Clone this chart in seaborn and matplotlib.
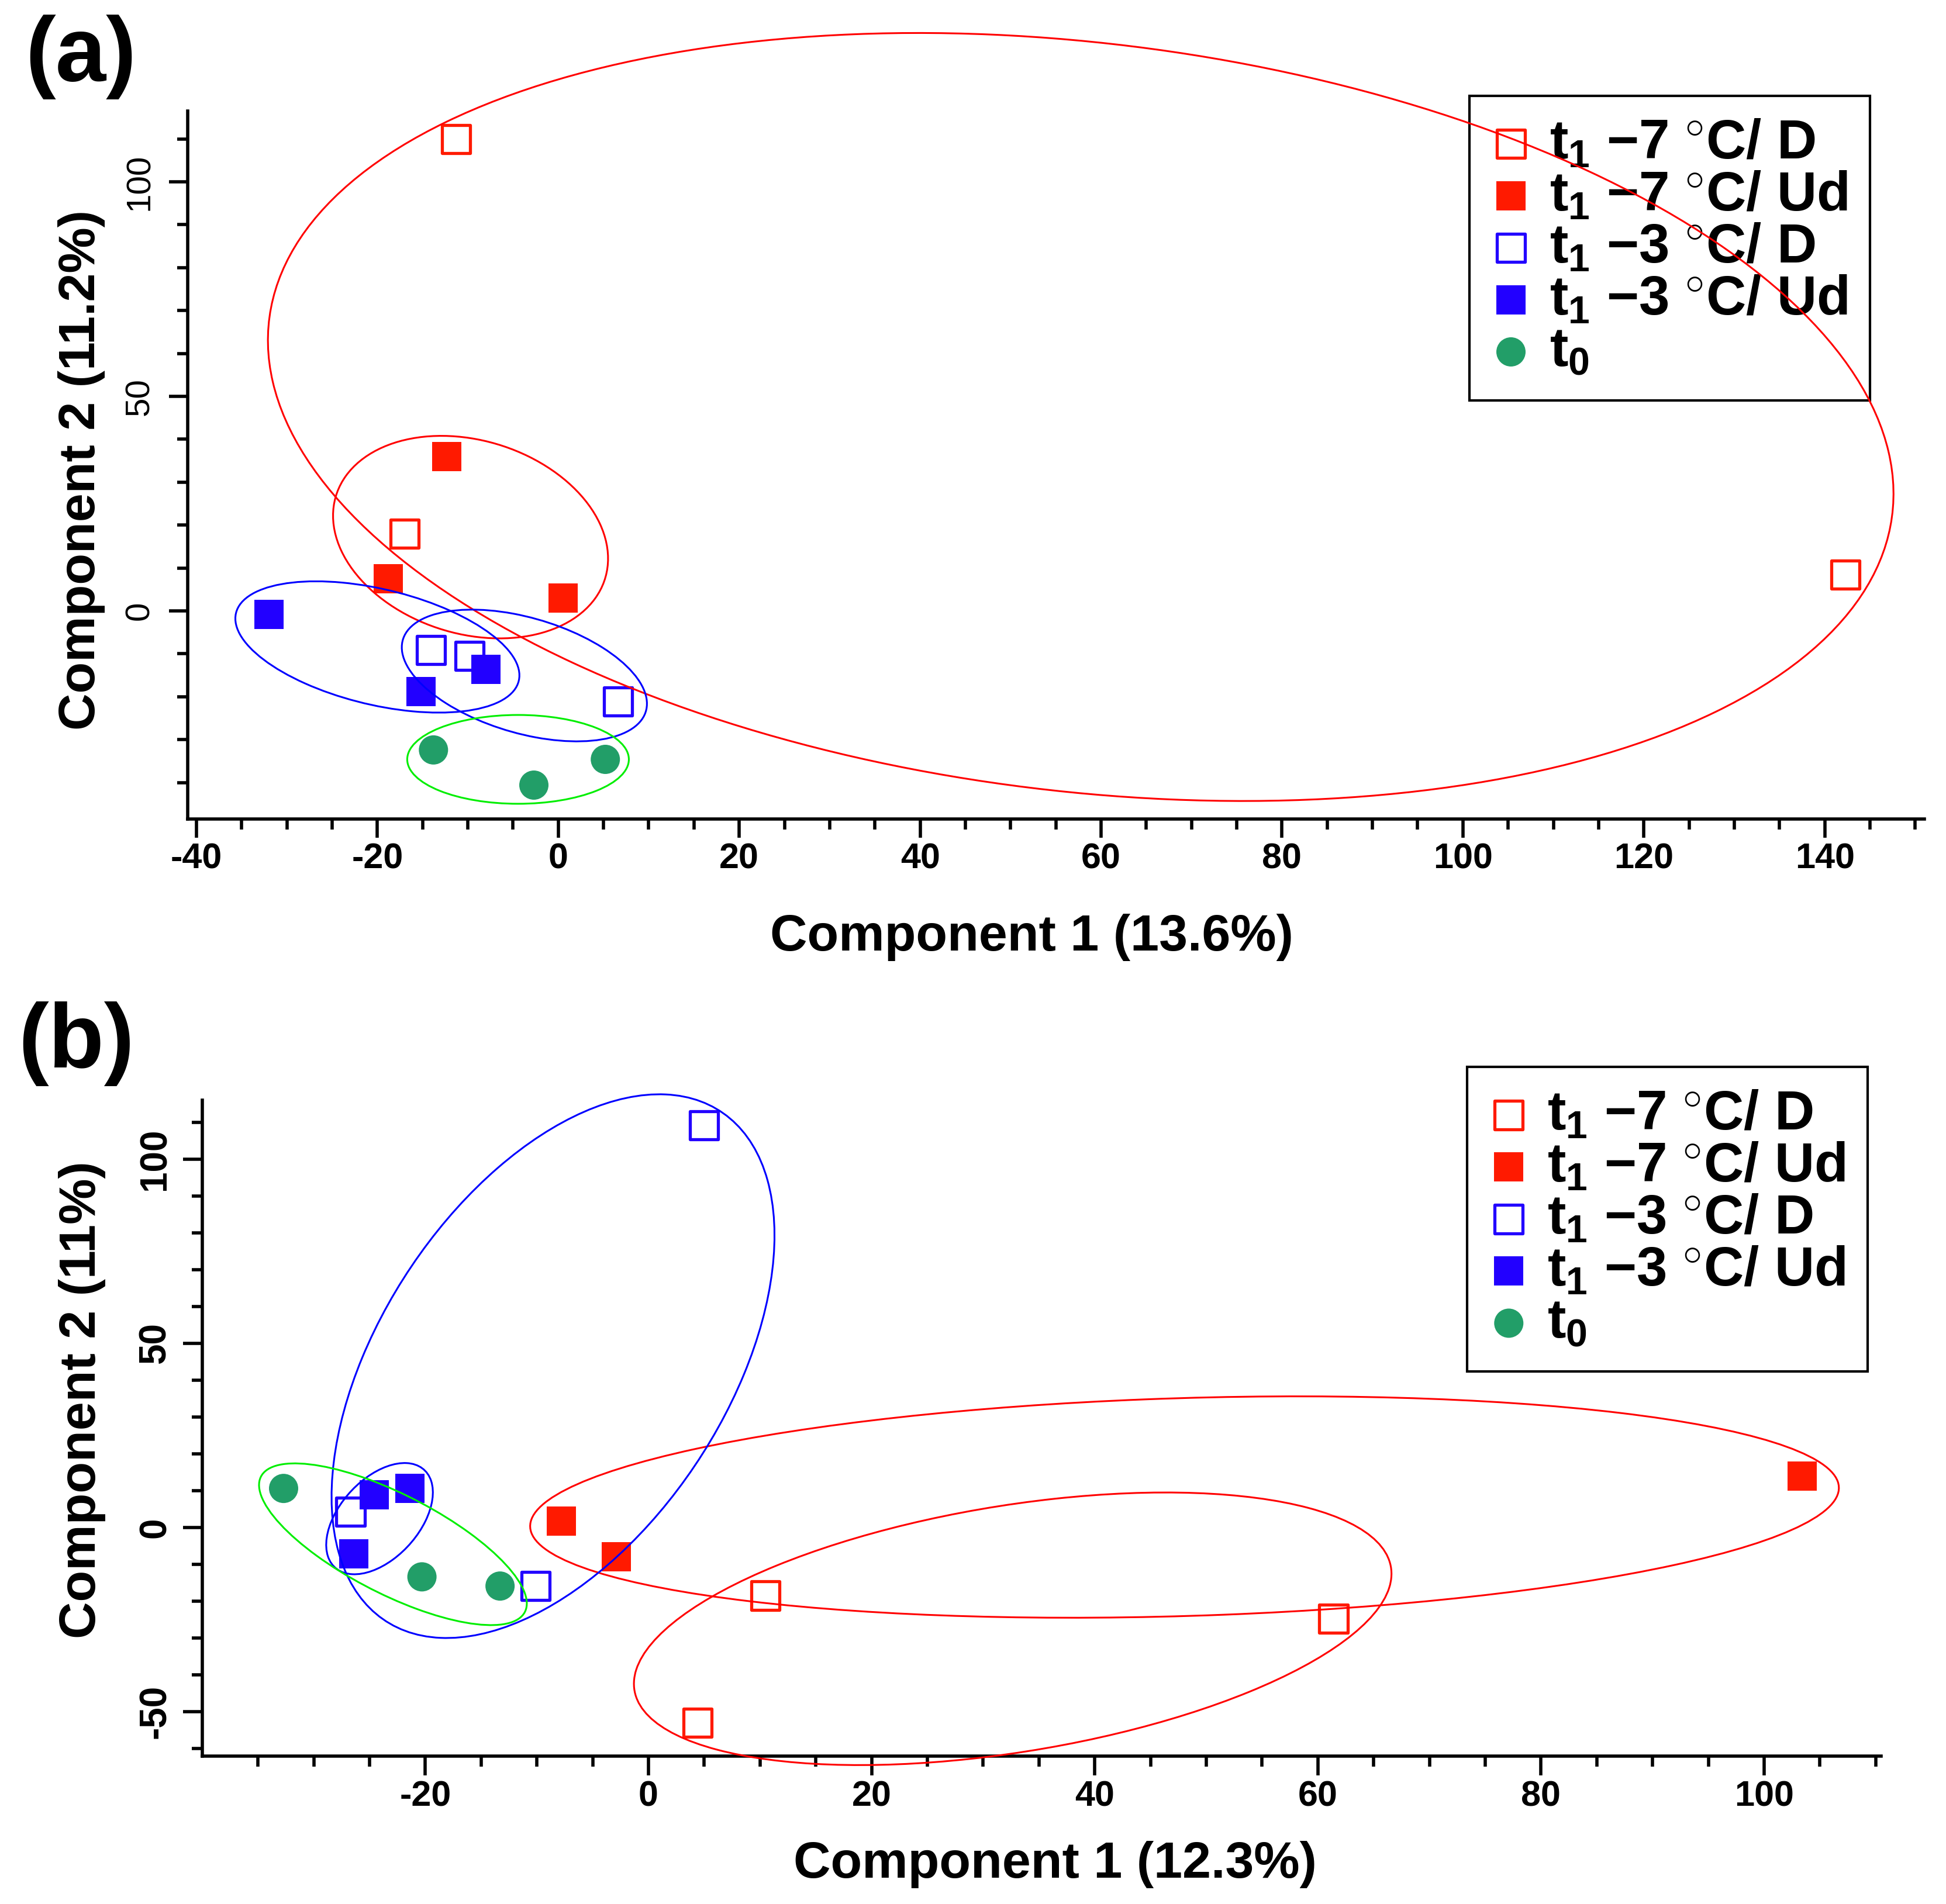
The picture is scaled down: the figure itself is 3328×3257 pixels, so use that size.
import numpy as np
import pandas as pd
import matplotlib
matplotlib.use("Agg")
import matplotlib.pyplot as plt
from matplotlib.patches import Ellipse
from matplotlib.ticker import FixedLocator
import seaborn as sns

# ---------------- data ----------------
group_keys = ["r_open", "r_fill", "b_open", "b_fill", "t0"]
group_labels = [r"$t_1$ −7 $^{\circ}$C/ D", r"$t_1$ −7 $^{\circ}$C/ Ud",
                r"$t_1$ −3 $^{\circ}$C/ D", r"$t_1$ −3 $^{\circ}$C/ Ud", r"$t_0$"]

# panel (a) scores
a_r_open_x = [-11.3, -17.0, 142.3]
a_r_open_y = [109.9, 18.0, 8.4]
a_r_fill_x = [-12.3, -18.8, 0.5]
a_r_fill_y = [36.0, 7.5, 3.0]
a_b_open_x = [-14.1, -9.8, 6.6]
a_b_open_y = [-9.1, -10.5, -21.1]
a_b_fill_x = [-32.0, -8.0, -15.2]
a_b_fill_y = [-0.8, -13.6, -18.8]
a_t0_x = [-13.8, -2.7, 5.2]
a_t0_y = [-32.4, -40.6, -34.6]

# panel (b) scores
b_r_open_x = [10.5, 61.4, 4.4]
b_r_open_y = [-18.5, -24.7, -53.0]
b_r_fill_x = [-7.8, -2.9, 103.4]
b_r_fill_y = [1.7, -7.9, 14.0]
b_b_open_x = [-26.7, -10.1, 5.0]
b_b_open_y = [4.3, -15.9, 109.2]
b_b_fill_x = [-24.6, -21.4, -26.4]
b_b_fill_y = [8.8, 10.6, -7.1]
b_t0_x = [-32.7, -20.3, -13.3]
b_t0_y = [10.6, -13.4, -15.9]

# group ellipses: centre, half extents along x / y, covariance term
a_ell_cx = [57.75, -9.7, -3.75, -20.0, -4.45]
a_ell_cy = [45.2, 17.2, -15.05, -8.4, -34.6]
a_ell_hx = [89.85, 15.2, 13.55, 15.7, 12.25]
a_ell_hy = [89.5, 23.6, 15.35, 15.3, 10.35]
a_ell_k = [-1607.0, -76.0, -89.0, -104.0, 0.0]

b_ell_cx = [32.65, 48.05, -8.55, -24.1, -22.9]
b_ell_cy = [-27.5, 5.55, 43.8, 2.4, -4.55]
b_ell_hx = [33.95, 58.65, 19.85, 4.78, 12.0]
b_ell_hy = [37.0, 30.05, 73.8, 15.1, 21.95]
b_ell_k = [507.0, 305.0, 704.0, 34.0, -193.0]

a_xlabel = "Component 1 (13.6%)"
a_ylabel = "Component 2 (11.2%)"
b_xlabel = "Component 1 (12.3%)"
b_ylabel = "Component 2 (11%)"

# ---------------- style ----------------
sns.set_style("ticks")
plt.rcParams["font.family"] = ["Liberation Sans", "DejaVu Sans"]
plt.rcParams["mathtext.fontset"] = "custom"
plt.rcParams["mathtext.rm"] = "Liberation Sans:bold"
plt.rcParams["mathtext.it"] = "Liberation Sans:bold"
plt.rcParams["mathtext.bf"] = "Liberation Sans:bold"
plt.rcParams["axes.unicode_minus"] = False
for key in ["text.color", "axes.labelcolor", "xtick.color", "ytick.color", "axes.edgecolor"]:
    plt.rcParams[key] = "black"

marker_col = {"r_open": "#FF1A00", "r_fill": "#FF1A00", "b_open": "#2200FF",
              "b_fill": "#2200FF", "t0": "#229E68"}
ell_col = {"r_open": "#FF0000", "r_fill": "#FF0000", "b_open": "#0000FF",
           "b_fill": "#0000FF", "t0": "#00EE00"}
marker_shape = {"r_open": "s", "r_fill": "s", "b_open": "s", "b_fill": "s", "t0": "o"}
is_open = {"r_open": True, "r_fill": False, "b_open": True, "b_fill": False, "t0": False}


def make_frame(prefix):
    rows = []
    for key in group_keys:
        xs = globals()[f"{prefix}_{key}_x"]
        ys = globals()[f"{prefix}_{key}_y"]
        for xv, yv in zip(xs, ys):
            rows.append({"pc1": xv, "pc2": yv, "group": key})
    return pd.DataFrame(rows)


def add_ellipse(ax, cx, cy, hx, hy, k, color):
    C = np.array([[hx ** 2, k], [k, hy ** 2]])
    vals, vecs = np.linalg.eigh(C)
    order = vals.argsort()[::-1]
    vals, vecs = vals[order], vecs[:, order]
    angle = np.degrees(np.arctan2(vecs[1, 0], vecs[0, 0]))
    e = Ellipse((cx, cy), 2 * np.sqrt(vals[0]), 2 * np.sqrt(vals[1]), angle=angle,
                fill=False, edgecolor=color, lw=1.1, zorder=6, clip_on=False)
    ax.add_patch(e)


W, H = 3328, 3257
DPI = 200
fig = plt.figure(figsize=(W / DPI, H / DPI), dpi=DPI)

ax_a = fig.add_axes([320.5 / W, 1 - 1401 / H, (3290.8 - 320.5) / W, (1401 - 190) / H])
ax_b = fig.add_axes([345.7 / W, 1 - 3003.6 / H, (3217.3 - 345.7) / W, (3003.6 - 1882) / H])


def draw_panel(ax, prefix, ell):
    df = make_frame(prefix)
    for key, lab in zip(group_keys, group_labels):
        sub = df[df["group"] == key]
        col = marker_col[key]
        if is_open[key]:
            sns.scatterplot(data=sub, x="pc1", y="pc2", ax=ax, marker=marker_shape[key],
                            s=300, color=col, facecolor="none", edgecolor=col,
                            linewidth=1.9, label=lab, zorder=4)
        else:
            sns.scatterplot(data=sub, x="pc1", y="pc2", ax=ax, marker=marker_shape[key],
                            s=324, color=col, edgecolor="none", linewidth=0,
                            label=lab, zorder=4)
    cx, cy, hx, hy, kk = ell
    for i, key in enumerate(group_keys):
        add_ellipse(ax, cx[i], cy[i], hx[i], hy[i], kk[i], ell_col[key])
    sns.despine(ax=ax)
    for s in ["left", "bottom"]:
        ax.spines[s].set_linewidth(2.0)
        ax.spines[s].set_color("black")


draw_panel(ax_a, "a", (a_ell_cx, a_ell_cy, a_ell_hx, a_ell_hy, a_ell_k))
draw_panel(ax_b, "b", (b_ell_cx, b_ell_cy, b_ell_hx, b_ell_hy, b_ell_k))

# ---- axes (a) ----
ax_a.set_xlim(-41, 151)
ax_a.set_ylim(-48.5, 116.5)
ax_a.xaxis.set_major_locator(FixedLocator(np.arange(-40, 141, 20)))
ax_a.xaxis.set_minor_locator(FixedLocator(np.arange(-40, 151, 5)))
ax_a.yaxis.set_major_locator(FixedLocator([0, 50, 100]))
ax_a.yaxis.set_minor_locator(FixedLocator(np.arange(-40, 111, 10)))
ax_a.tick_params(axis="both", which="major", length=11.5, width=2.0, color="black")
ax_a.tick_params(axis="both", which="minor", length=6.5, width=2.0, color="black")
ax_a.tick_params(axis="x", which="major", labelsize=22, pad=3)
ax_a.tick_params(axis="y", which="major", labelsize=21, pad=8, labelrotation=90)
for t in ax_a.get_xticklabels():
    t.set_fontweight("bold")
for t in ax_a.get_yticklabels():
    t.set_fontweight("normal")
    t.set_va("center")

# ---- axes (b) ----
ax_b.set_xlim(-40, 110.5)
ax_b.set_ylim(-62, 116)
ax_b.xaxis.set_major_locator(FixedLocator(np.arange(-20, 101, 20)))
ax_b.xaxis.set_minor_locator(FixedLocator(np.arange(-35, 111, 5)))
ax_b.yaxis.set_major_locator(FixedLocator([-50, 0, 50, 100]))
ax_b.yaxis.set_minor_locator(FixedLocator(np.arange(-60, 111, 10)))
ax_b.tick_params(axis="both", which="major", length=12, width=2.0, color="black")
ax_b.tick_params(axis="both", which="minor", length=6.5, width=2.0, color="black")
ax_b.tick_params(axis="x", which="major", labelsize=22, pad=3)
ax_b.tick_params(axis="y", which="major", labelsize=23, pad=6, labelrotation=90)
for t in ax_b.get_xticklabels() + ax_b.get_yticklabels():
    t.set_fontweight("bold")
for t in ax_b.get_yticklabels():
    t.set_va("center")

# ---- axis labels ----
lab_kw = dict(fontsize=31.7, fontweight="bold", color="black")
ax_a.set_xlabel(a_xlabel, **lab_kw)
ax_a.set_ylabel(a_ylabel, **lab_kw)
ax_b.set_xlabel(b_xlabel, **lab_kw)
ax_b.set_ylabel(b_ylabel, **lab_kw)
for ax, xl, yl in [(ax_a, (0.486, -0.1676), (-0.0611, 0.493)),
                   (ax_b, (0.508, -0.1653), (-0.0713, 0.5426))]:
    ax.xaxis.label.set_va("center")
    ax.yaxis.label.set_va("center")
    ax.xaxis.set_label_coords(*xl)
    ax.yaxis.set_label_coords(*yl)

# ---- legends ----
leg_kw = dict(loc="upper left", borderaxespad=0, frameon=True, fancybox=False,
              edgecolor="black", facecolor="white", framealpha=1.0,
              prop={"family": "Liberation Sans", "weight": "bold", "size": 34},
              handlelength=0.7, handletextpad=0.35, labelspacing=0.0,
              borderpad=0.4, scatterpoints=1, markerscale=1.0)
leg_a = ax_a.legend(bbox_to_anchor=(0.7382, 1.0215), **leg_kw)
leg_b = ax_b.legend(bbox_to_anchor=(0.7535, 1.0504), **leg_kw)
for leg in (leg_a, leg_b):
    leg.get_frame().set_linewidth(1.5)
    leg.set_zorder(5)
    for txt in leg.get_texts():
        txt.set_color("black")

# ---- panel letters ----
fig.text(138 / W, 1 - 97 / H, "(a)", fontsize=56, fontweight="bold", ha="center",
         va="center", color="black")
fig.text(131 / W, 1 - 1785 / H, "(b)", fontsize=56, fontweight="bold", ha="center",
         va="center", color="black")

fig.savefig("out.png", dpi=DPI)
